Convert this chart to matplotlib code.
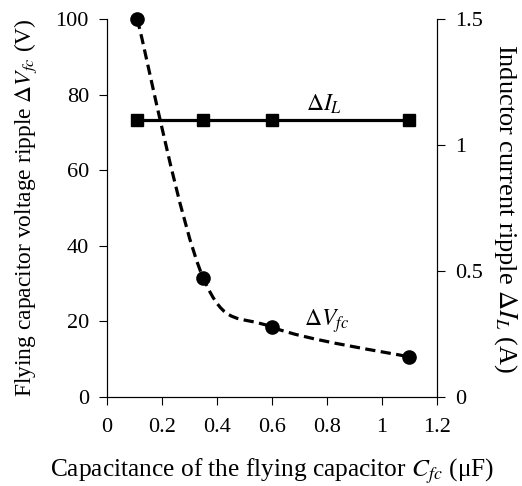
"""Flying capacitor voltage ripple and inductor current ripple vs capacitance."""

import matplotlib

matplotlib.use("Agg")
import matplotlib.pyplot as plt
import numpy as np
from matplotlib.patches import PathPatch
from matplotlib.path import Path

# measured points
cap_uf = [0.11, 0.35, 0.6, 1.1]
v_ripple = [100.0, 31.5, 18.5, 10.6]
i_ripple = [1.1, 1.1, 1.1, 1.1]

x_ticks = [0, 0.2, 0.4, 0.6, 0.8, 1, 1.2]
x_tick_labels = ["0", "0.2", "0.4", "0.6", "0.8", "1", "1.2"]
v_ticks = [0, 20, 40, 60, 80, 100]
i_ticks = [0, 0.5, 1, 1.5]
i_tick_labels = ["0", "0.5", "1", "1.5"]

plt.rcParams.update(
    {
        "font.family": ["Liberation Serif", "FreeSerif", "STIXGeneral", "DejaVu Serif"],
        "mathtext.fontset": "stix",
        "font.size": 16,
    }
)


def _smooth_path(xs, ys):
    """Catmull-Rom style cubic Bezier through the points (like a smoothed line)."""
    pts = np.column_stack([xs, ys]).astype(float)
    n = len(pts)
    verts = [pts[0]]
    codes = [Path.MOVETO]
    for i in range(n - 1):
        p0 = pts[max(i - 1, 0)]
        p1 = pts[i]
        p2 = pts[i + 1]
        p3 = pts[min(i + 2, n - 1)]
        c1 = p1 + (p2 - p0) / 6.0
        c2 = p2 - (p3 - p1) / 6.0
        verts += [c1, c2, p2]
        codes += [Path.CURVE4] * 3
    return Path(verts, codes)


fig = plt.figure(figsize=(5.22, 4.86), dpi=100)
ax = fig.add_axes([0.205, 0.183, 0.632, 0.778])
ax2 = ax.twinx()

curve = PathPatch(
    _smooth_path(cap_uf, v_ripple),
    facecolor="none",
    edgecolor="black",
    linewidth=2.3,
    linestyle=(0, (3.2, 1.7)),
    transform=ax.transData,
    zorder=2,
)
ax.add_patch(curve)
ax.plot(cap_uf, v_ripple, linestyle="none", marker="o", markersize=9.5, color="black",
        zorder=3, clip_on=False)

ax2.plot(cap_uf, i_ripple, color="black", linewidth=2.3, marker="s", markersize=8, zorder=3)

ax.set_xlim(0, 1.2)
ax.set_ylim(0, 100)
ax2.set_ylim(0, 1.5)
ax.set_xticks(x_ticks)
ax.set_xticklabels(x_tick_labels)
ax.set_yticks(v_ticks)
ax2.set_yticks(i_ticks)
ax2.set_yticklabels(i_tick_labels)

for a in (ax, ax2):
    a.spines["top"].set_visible(False)
    a.tick_params(direction="out", length=6, width=0.8, labelsize=16, pad=7)
ax.tick_params(axis="x", pad=9)

ax.set_xlabel(r"Capacitance of the flying capacitor $C_{fc}$ (μF)", fontsize=18.3, labelpad=14)
ax.set_ylabel(r"Flying capacitor voltage ripple $\Delta V_{fc}$ (V)", fontsize=16.9, labelpad=12)
ax2.set_ylabel(r"Inductor current ripple $\Delta I_L$ (A)", fontsize=19, rotation=270, labelpad=26)

ax.text(0.79, 77.5, r"$\Delta I_L$", fontsize=17, ha="center", va="center")
ax.text(0.8, 20, r"$\Delta V_{fc}$", fontsize=17, ha="center", va="center")

fig.savefig("out.png", dpi=100)
plt.close(fig)
